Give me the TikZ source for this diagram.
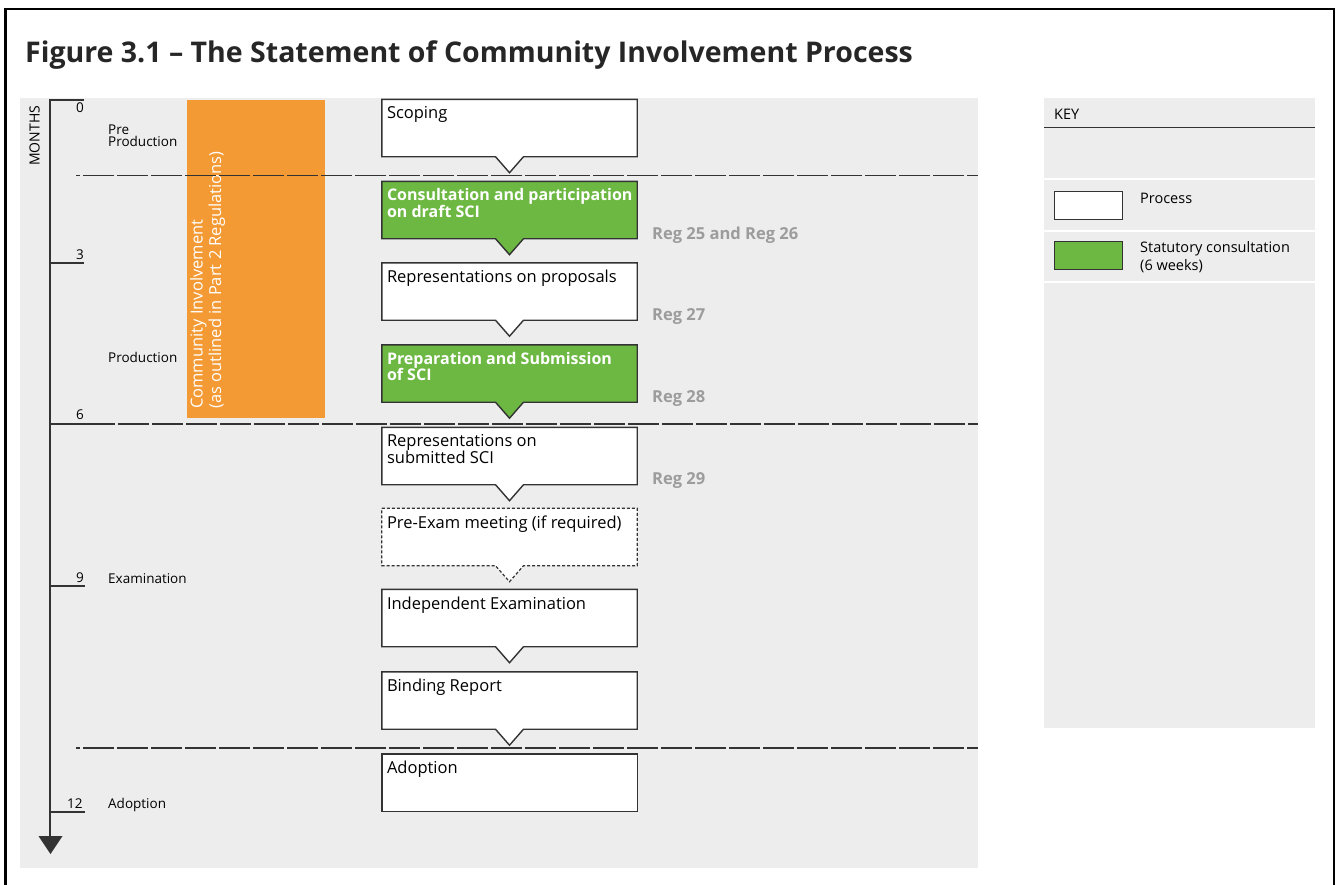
\documentclass[tikz,border=0pt]{standalone}
\usepackage{fontspec}
\setmainfont{Open Sans}
\usetikzlibrary{calc}
\definecolor{panel}{HTML}{EDEDEE}
\definecolor{orangeband}{HTML}{F49A34}
\definecolor{stat}{HTML}{6DB843}
\definecolor{edge}{HTML}{333333}
\definecolor{reggrey}{HTML}{9C9C9C}
\tikzset{
  boxbase/.style={minimum width=255pt, minimum height=57pt, inner sep=0pt, draw=none},
  procshape/.style={draw=edge, line width=1.4pt, fill=white, line join=miter},
  statshape/.style={draw=edge, line width=1.4pt, fill=stat, line join=miter},
  optshape/.style={draw=edge, line width=1.2pt, fill=white, dash pattern=on 3pt off 2pt},
  proctext/.style={anchor=north west, inner sep=0pt, align=left, text=black, font=\fontsize{16.5}{16.5}\selectfont},
  stattext/.style={anchor=north west, inner sep=0pt, align=left, text=white, font=\fontsize{16}{16.5}\selectfont\bfseries},
  regtext/.style={anchor=base west, inner sep=0pt, text=reggrey, font=\fontsize{16.5}{16}\selectfont\bfseries},
  sidelabel/.style={anchor=base west, inner sep=0pt, align=left, font=\fontsize{13.5}{14}\selectfont},
  monthnum/.style={anchor=base west, inner sep=0pt, font=\fontsize{13.5}{14}\selectfont},
  phaseline/.style={draw=edge, line width=1.6pt, dash pattern=on 31pt off 3pt},
  axisline/.style={draw=edge, line width=1.8pt},
  keytext/.style={anchor=base west, inner sep=0pt, align=left, font=\fontsize{14.5}{18}\selectfont},
}
\newcommand\procbox[4]{%
  \node[boxbase] (#1) at (509.5,#2) {};
  \draw[#3] (#1.north west) -- (#1.north east) -- (#1.south east) -- ([xshift=14pt]#1.south) -- ([yshift=-16pt]#1.south) -- ([xshift=-14pt]#1.south) -- (#1.south west) -- cycle;
}
\newcommand\procboxend[4]{%
  \node[boxbase] (#1) at (509.5,#2) {};
  \draw[#3] (#1.north west) rectangle (#1.south east);
}
\begin{document}
\begin{tikzpicture}[x=1pt,y=-1pt]
\useasboundingbox (0,0) rectangle (1342,884);
\fill[white] (0,0) rectangle (1342,884);
% outer frame
\begin{scope}
\clip (0,0) rectangle (1342,884);
\draw[black, line width=2.5pt] (5.5,9) rectangle (1334,900);
\end{scope}
% title
\node[anchor=base west, inner sep=0pt, font=\fontsize{28.5}{30}\selectfont\bfseries, text=black!85] (title) at (25,62) {Figure 3.1 -- The Statement of Community Involvement Process};
% panels
\fill[panel] (20,98) rectangle (978,868);
\fill[panel] (1044,98) rectangle (1315,728);
% orange band
\fill[orangeband] (187,100) rectangle (325,418);
\node[rotate=90, anchor=north west, inner sep=0pt, align=left, text=white, font=\fontsize{16.5}{18.5}\selectfont] (ci) at (190,409) {Community Involvement\\(as outlined in Part 2 Regulations)};
% axis
\coordinate (axtop) at (50,99);
\coordinate (axbot) at (50,840);
\draw[axisline] (axtop) -- (axbot);
\fill[edge] (38.5,836) -- (62.5,836) -- (50.5,854) -- cycle;
\draw[axisline] (50,100) -- (84,100);
\draw[axisline] (50,263) -- (84,263);
\draw[axisline] (50,586) -- (85,586);
\draw[axisline] (50,812) -- (85,812);
\draw[axisline] (50,424) -- (84,424);
\node[rotate=90, anchor=south west, inner sep=0pt, font=\fontsize{14}{14}\selectfont] (months) at (40,166) {MONTHS};
\node[monthnum] (m0) at (76,112) {0};
\node[monthnum] (m3) at (76,259) {3};
\node[monthnum] (m6) at (76,419) {6};
\node[monthnum] (m9) at (76,582) {9};
\node[monthnum] (m12) at (67,808) {12};
\node[sidelabel] (lpre) at (108,146) {Pre\\[-2pt]Production};
\node[sidelabel] (lprod) at (108,362) {Production};
\node[sidelabel] (lexam) at (108,583) {Examination};
\node[sidelabel] (ladop) at (108,808) {Adoption};
% boxes
\procbox{b1}{128}{procshape}{}
\node[proctext] (b1t) at ([xshift=5pt,yshift=-7pt]b1.north west) {Scoping};
\procbox{b2}{210}{statshape}{}
\node[stattext] (b2t) at ([xshift=5pt,yshift=-7pt]b2.north west) {Consultation and participation\\on draft SCI};
\procbox{b3}{291.5}{procshape}{}
\node[proctext] (b3t) at ([xshift=5pt,yshift=-7pt]b3.north west) {Representations on proposals};
\procbox{b4}{373.5}{statshape}{}
\node[stattext] (b4t) at ([xshift=5pt,yshift=-7pt]b4.north west) {Preparation and Submission\\of SCI};
\procbox{b5}{456}{procshape}{}
\node[proctext] (b5t) at ([xshift=5pt,yshift=-7pt]b5.north west) {Representations on\\submitted SCI};
\procbox{b6}{537}{optshape}{}
\node[proctext] (b6t) at ([xshift=5pt,yshift=-7pt]b6.north west) {Pre-Exam meeting (if required)};
\procbox{b7}{618}{procshape}{}
\node[proctext] (b7t) at ([xshift=5pt,yshift=-7pt]b7.north west) {Independent Examination};
\procbox{b8}{700.5}{procshape}{}
\node[proctext] (b8t) at ([xshift=5pt,yshift=-7pt]b8.north west) {Binding Report};
\procboxend{b9}{782.5}{procshape}{}
\node[proctext] (b9t) at ([xshift=5pt,yshift=-7pt]b9.north west) {Adoption};
% reg labels
\node[regtext] (r1) at (652,239) {Reg 25 and Reg 26};
\node[regtext] (r2) at (652,320) {Reg 27};
\node[regtext] (r3) at (652,402) {Reg 28};
\node[regtext] (r4) at (652,484) {Reg 29};
% phase lines
\draw[phaseline, dash phase=27pt] (76,175.5) -- (978,175.5);
\draw[phaseline] (84,424) -- (978,424);
\draw[phaseline, dash phase=27pt] (76,748) -- (978,748);
% key
\node[keytext] (key) at (1054,119) {KEY};
\draw[edge, line width=1.4pt] (1044,127.5) -- (1315,127.5);
\draw[white, line width=2pt] (1044,179) -- (1315,179);
\draw[white, line width=2pt] (1044,231) -- (1315,231);
\draw[white, line width=2pt] (1044,282) -- (1315,282);
\node[draw=edge, line width=1.4pt, fill=white, minimum width=68pt, minimum height=28pt, inner sep=0pt] (kp) at (1088.5,205.5) {};
\node[draw=edge, line width=1.4pt, fill=stat, minimum width=68pt, minimum height=28pt, inner sep=0pt] (ks) at (1088.5,255.5) {};
\node[keytext] (kpt) at (1140,203) {Process};
\node[keytext] (kst) at (1140,270) {Statutory consultation\\(6 weeks)};
\end{tikzpicture}
\end{document}
